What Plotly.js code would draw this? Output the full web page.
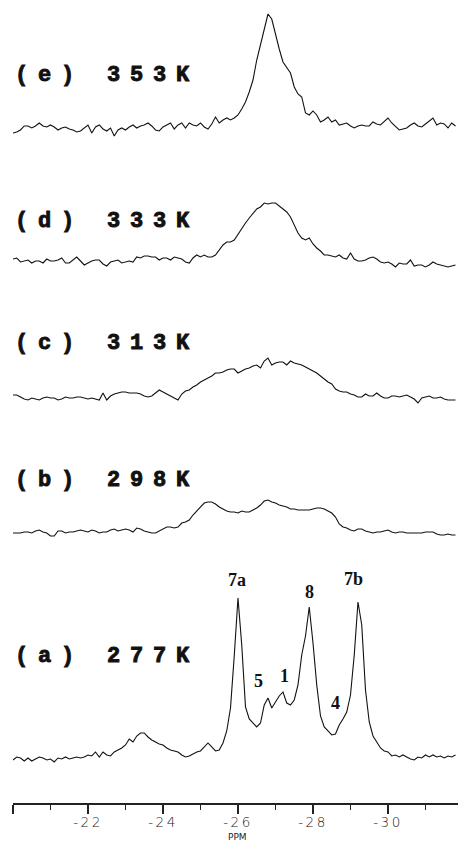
<!DOCTYPE html>
<html><head><meta charset="utf-8">
<script src="https://cdn.plot.ly/plotly-3.0.1.min.js"></script>
<style>html,body{margin:0;padding:0;background:#fff}</style>
</head><body><div id="chart" style="width:458px;height:841px"></div>
<script>
// chemical shift grid (ppm)
const ppm = [
-20.0,-20.1,-20.2,-20.3,-20.4,-20.5,-20.6,-20.7,-20.8,-20.9,
-21.0,-21.1,-21.2,-21.3,-21.4,-21.5,-21.6,-21.7,-21.8,-21.9,
-22.0,-22.1,-22.2,-22.3,-22.4,-22.5,-22.6,-22.7,-22.8,-22.9,
-23.0,-23.1,-23.2,-23.3,-23.4,-23.5,-23.6,-23.7,-23.8,-23.9,
-24.0,-24.1,-24.2,-24.3,-24.4,-24.5,-24.6,-24.7,-24.8,-24.9,
-25.0,-25.1,-25.2,-25.3,-25.4,-25.5,-25.6,-25.7,-25.8,-25.9,
-26.0,-26.1,-26.2,-26.3,-26.4,-26.5,-26.6,-26.7,-26.8,-26.9,
-27.0,-27.1,-27.2,-27.3,-27.4,-27.5,-27.6,-27.7,-27.8,-27.9,
-28.0,-28.1,-28.2,-28.3,-28.4,-28.5,-28.6,-28.7,-28.8,-28.9,
-29.0,-29.1,-29.2,-29.3,-29.4,-29.5,-29.6,-29.7,-29.8,-29.9,
-30.0,-30.1,-30.2,-30.3,-30.4,-30.5,-30.6,-30.7,-30.8,-30.9,
-31.0,-31.1,-31.2,-31.3,-31.4,-31.5,-31.6,-31.7,-31.8];

// intensities (arbitrary units, baseline = 0)
const int277 = [
0,3,2,-1,2,-1,1,3,2,0,
1,-2,2,1,3,1,2,3,2,3,
5,4,8,3,8,5,4,8,10,12,
15,21,18,24,27,27,23,20,18,16,
15,12,10,9,8,5,3,4,6,8,
9,13,17,13,9,10,17,29,52,104,
162,115,53,41,37,33,37,55,62,52,
58,64,68,57,55,60,75,105,124,153,
117,75,44,33,29,25,26,35,41,48,
65,105,158,135,70,38,24,18,12,9,
8,4,5,3,5,3,1,0,3,2,
5,3,5,3,4,2,4,3,5];
const int298 = [
1,1,1,2,2,1,3,4,2,1,
-2,-2,3,3,1,2,2,3,4,3,
2,4,3,1,2,2,4,5,3,4,
5,4,2,6,5,3,2,1,1,3,
5,7,7,6,7,11,12,14,19,23,
27,31,32,32,30,27,25,23,22,22,
21,23,22,22,24,26,29,33,34,32,
31,29,28,27,25,25,24,24,24,24,
25,26,26,25,23,21,17,10,7,6,
4,3,5,5,3,2,1,2,2,3,
4,2,1,2,2,1,1,1,1,1,
2,2,2,0,-1,-1,0,-1,-1];
const int313 = [
4,4,2,0,-1,1,0,-1,1,2,
1,1,-1,0,2,1,1,2,2,1,
0,1,0,-1,6,-1,3,5,6,7,
7,6,6,6,5,3,2,3,6,9,
7,5,3,1,-1,5,8,9,12,14,
17,19,21,23,26,26,27,29,30,30,
26,28,30,31,33,34,31,38,41,34,
36,37,37,34,38,36,35,34,32,30,
28,26,23,20,17,15,10,8,7,7,
5,4,2,2,5,3,3,6,3,1,
1,3,3,2,3,4,2,0,-4,1,
2,3,1,1,2,0,-1,-1,-1];
const int333 = [
3,4,0,1,2,-1,1,1,-1,3,
1,1,2,4,-1,-1,2,5,1,-3,
-1,1,2,2,-2,-4,0,1,2,-1,
0,1,0,5,4,6,6,5,5,2,
4,4,2,5,4,3,0,-1,4,7,
5,7,5,5,7,12,17,20,20,22,
28,34,39,44,49,53,55,59,58,59,
59,56,53,50,45,37,29,24,22,24,
18,14,11,7,7,6,5,7,4,3,
9,3,1,1,2,4,5,3,0,-1,
0,-2,-5,-1,-2,-2,2,-4,-3,-3,
-5,-3,0,-2,-3,-4,-5,-4,-3];
const int353 = [
-3,-2,0,4,4,2,4,7,4,3,
5,3,0,2,3,1,0,-2,-1,2,
5,-3,3,5,1,-1,2,-6,0,2,
0,3,5,2,4,5,7,4,0,-1,
3,5,7,1,5,7,2,7,5,4,
7,3,1,6,13,7,10,12,10,12,
15,21,28,38,50,70,85,102,116,111,
95,81,68,62,57,43,36,33,17,15,
19,15,8,10,13,8,10,5,6,7,
4,2,4,5,4,4,8,6,5,9,
12,7,3,0,1,2,5,7,4,3,
6,9,12,5,7,6,2,7,4];

const tempLabels = ['(a) 277K','(b) 298K','(c) 313K','(d) 333K','(e) 353K'];
const peakLabels = ['7a','5','1','8','4','7b'];
const peakPpm = [-25.97,-26.56,-27.25,-27.92,-28.59,-29.09];
const peakInt = [180,79,84,168,57,181];
const tickVals = [-20,-22,-24,-26,-28,-30];
const tickText = ['','-22','-24','-26','-28','-30'];

const series = [int277,int298,int313,int333,int353];
const axNames = ['y','y2','y3','y4','y5'];
const traces = series.map((s,i)=>({
  x: ppm, y: s, type:'scatter', mode:'lines',
  yaxis: axNames[i], xaxis:'x',
  line:{color:'#111', width:1.1, shape:'linear'},
  hoverinfo:'skip', showlegend:false
}));

const labelY = [0.18306,0.40100,0.57285,0.72478,0.90660];
const annotations = [];
tempLabels.forEach((t,i)=>{
  annotations.push({
    text:'<span style="letter-spacing:9.8px;stroke:#111;stroke-width:0.9px">'+t+'</span>',
    xref:'paper', yref:'paper', x:0, xshift:0, y:labelY[i],
    xanchor:'left', yanchor:'middle', showarrow:false,
    font:{family:'Liberation Mono', size:22, color:'#111', weight:'bold'}
  });
});
peakLabels.forEach((t,i)=>{
  annotations.push({
    text:t, xref:'x', yref:'y', x:peakPpm[i], y:peakInt[i],
    xanchor:'center', yanchor:'middle', showarrow:false,
    font:{family:'Liberation Serif', size:18, color:'#111', weight:'bold'}
  });
});
annotations.push({
  text:'PPM', xref:'x', yref:'paper', x:-26, y:0, yshift:-33.5,
  xanchor:'center', yanchor:'middle', showarrow:false,
  font:{family:'DejaVu Sans', size:9, color:'#222'}
});

const hiddenY = (dom, rng)=>({domain:dom, range:rng, visible:false, anchor:'x', fixedrange:true});

const layout = {
  width:458, height:841,
  margin:{l:13, r:0, t:0, b:38},
  paper_bgcolor:'#fff', plot_bgcolor:'#fff',
  showlegend:false,
  xaxis:{
    range:[-20,-31.867], autorange:false,
    tickmode:'array', tickvals:tickVals,
    ticktext: tickText.map(t=>'<span style="letter-spacing:2.5px">'+t+'</span>'),
    ticks:'outside', ticklen:9, tickwidth:1.2, tickcolor:'#222',
    ticklabelstandoff:-3,
    showline:true, linecolor:'#222', linewidth:1.5,
    showgrid:false, zeroline:false,
    tickfont:{family:'DejaVu Sans', size:13.5, color:'#222', weight:300},
    minor:{tickmode:'linear', tick0:-20, dtick:1, ticks:'outside', ticklen:5, tickwidth:1.2, tickcolor:'#222', showgrid:false}
  },
  yaxis: hiddenY([0,0.30262],[-43,200]),
  yaxis2: hiddenY([0.32254,0.39103],[-10,45]),
  yaxis3: hiddenY([0.49066,0.56538],[-10,50]),
  yaxis4: hiddenY([0.66127,0.75716],[-10,67]),
  yaxis5: hiddenY([0.82565,0.99004],[-10,122]),
  annotations: annotations
};

Plotly.newPlot('chart', traces, layout, {staticPlot:true, displayModeBar:false});
</script>
</body></html>
